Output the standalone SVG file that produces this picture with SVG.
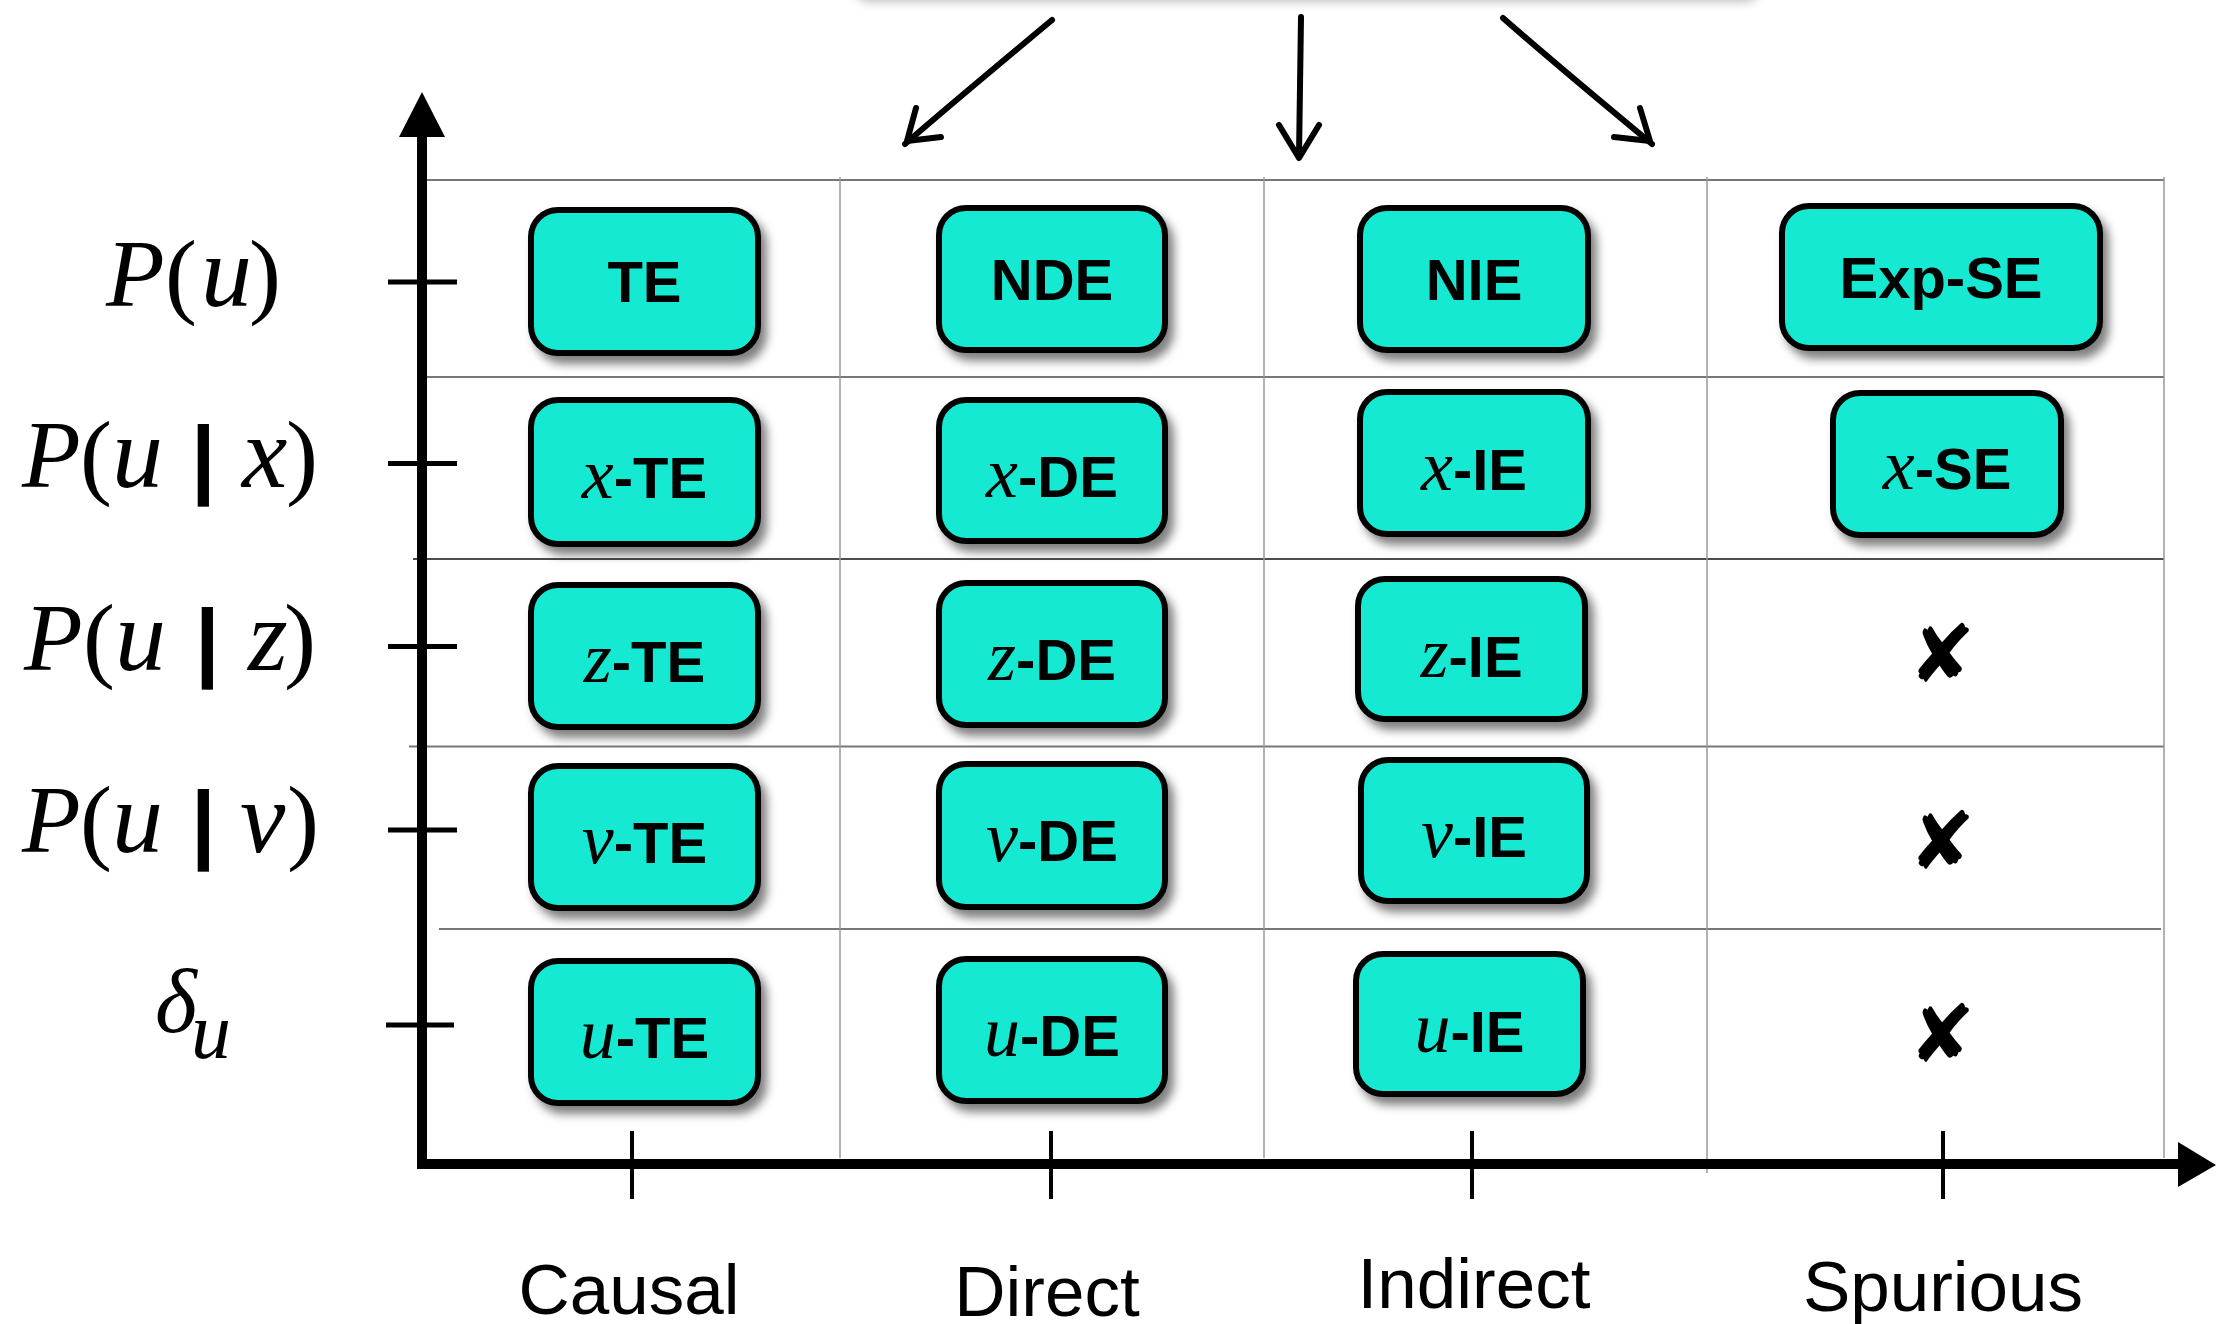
<svg xmlns="http://www.w3.org/2000/svg" width="2217" height="1324" viewBox="0 0 2217 1324">
<defs>
<filter id="sh" x="-20%" y="-20%" width="150%" height="160%">
<feDropShadow dx="6" dy="8" stdDeviation="5" flood-color="#000" flood-opacity="0.5"/>
</filter>
<filter id="sh2" x="-10%" y="-10%" width="120%" height="200%">
<feDropShadow dx="0" dy="4" stdDeviation="5" flood-color="#000" flood-opacity="0.25"/>
</filter>
</defs>
<style>
.box{fill:#18e9d1;stroke:#000;stroke-width:6}
.lbl{font-family:"Liberation Sans",Arial,sans-serif;font-weight:bold;font-size:58px;fill:#000}
.m{font-family:"Liberation Serif","Times New Roman",serif;font-style:italic;font-weight:normal;font-size:72px}
.gh{stroke:#777;stroke-width:2;fill:none}
.gv{stroke:#999;stroke-width:1.5;fill:none}
.ax{stroke:#000;fill:none}
.tk{stroke:#000;stroke-width:5}
.col{font-family:"Liberation Sans",Arial,sans-serif;font-size:71px;fill:#000}
.rl{font-family:"Liberation Serif","Times New Roman",serif;font-size:96px;fill:#000}
.it{font-style:italic}
.bar{font-family:"Liberation Sans",Arial,sans-serif;font-weight:bold;font-size:88px}
.xm{font-family:"DejaVu Sans",sans-serif;font-size:80px;fill:#000}
.hand{stroke:#000;stroke-width:6;stroke-linecap:round;stroke-linejoin:round;fill:none}
</style>
<rect width="2217" height="1324" fill="#fff"/>
<rect x="851" y="-160" width="912" height="158" rx="20" fill="#fff" filter="url(#sh2)"/>

<g id="grid">
<line class="gh" x1="427" y1="180" x2="2164" y2="180"/>
<line class="gh" x1="427" y1="377" x2="2164" y2="377"/>
<line x1="413" y1="559" x2="2164" y2="559" stroke="#111" stroke-width="1.5"/>
<line class="gh" x1="409" y1="746.5" x2="2164" y2="746.5"/>
<line class="gh" x1="439" y1="929" x2="2161" y2="929"/>
<line class="gv" x1="840" y1="177" x2="840" y2="1158"/>
<line class="gv" x1="1264" y1="177" x2="1264" y2="1158"/>
<line class="gv" x1="1707" y1="177" x2="1707" y2="1173"/>
<line class="gv" x1="2164" y1="177" x2="2164" y2="1158"/>
</g>

<g id="axes">
<line class="ax" x1="422" y1="134" x2="422" y2="1169" stroke-width="10"/>
<polygon points="422,92 399,137 445,137" fill="#000"/>
<line class="ax" x1="417" y1="1164" x2="2182" y2="1164" stroke-width="10"/>
<polygon points="2216,1165 2178,1142 2178,1187" fill="#000"/>
<line class="tk" x1="388" y1="282" x2="457" y2="282"/>
<line class="tk" x1="388" y1="463.5" x2="457" y2="463.5"/>
<line class="tk" x1="388" y1="646.5" x2="457" y2="646.5"/>
<line class="tk" x1="388" y1="830" x2="457" y2="830"/>
<line class="tk" x1="386" y1="1025" x2="454" y2="1025"/>
<line x1="632" y1="1131" x2="632" y2="1199" stroke="#000" stroke-width="4"/>
<line x1="1051" y1="1131" x2="1051" y2="1199" stroke="#000" stroke-width="4"/>
<line x1="1472" y1="1131" x2="1472" y2="1199" stroke="#000" stroke-width="4"/>
<line x1="1943" y1="1131" x2="1943" y2="1199" stroke="#000" stroke-width="4"/>
</g>

<g id="row-labels">
<text class="rl"><tspan class="it" x="106" y="306">P</tspan><tspan x="165" y="306">(</tspan><tspan class="it" x="201" y="306" font-size="102">u</tspan><tspan x="249" y="306">)</tspan></text>
<text class="rl"><tspan class="it" x="22" y="487">P</tspan><tspan x="80" y="487">(</tspan><tspan class="it" x="112" y="487" font-size="102">u</tspan><tspan class="bar" x="191" y="487">|</tspan><tspan class="it" x="242" y="487" font-size="102">x</tspan><tspan x="286" y="487">)</tspan></text>
<text class="rl"><tspan class="it" x="24" y="669.5">P</tspan><tspan x="83" y="669.5">(</tspan><tspan class="it" x="115" y="669.5" font-size="102">u</tspan><tspan class="bar" x="195" y="669.5">|</tspan><tspan class="it" x="248" y="669.5" font-size="102">z</tspan><tspan x="284" y="669.5">)</tspan></text>
<text class="rl"><tspan class="it" x="22" y="851.5">P</tspan><tspan x="80" y="851.5">(</tspan><tspan class="it" x="112" y="851.5" font-size="102">u</tspan><tspan class="bar" x="191" y="851.5">|</tspan><tspan class="it" x="240" y="851.5" font-size="102">v</tspan><tspan x="287" y="851.5">)</tspan></text>
<text class="rl"><tspan class="it" x="155" y="1032" font-size="90">δ</tspan><tspan class="it" x="191" y="1058" font-size="80">u</tspan></text>
</g>

<g id="col-labels">
<text class="col" x="629" y="1314" text-anchor="middle">Causal</text>
<text class="col" x="1047" y="1316" text-anchor="middle">Direct</text>
<text class="col" x="1474" y="1308" text-anchor="middle">Indirect</text>
<text class="col" x="1943" y="1311" text-anchor="middle">Spurious</text>
</g>

<g id="connectors">
<path class="hand" d="M1052,20 C1010,55 950,105 905,144" stroke-width="7"/>
<path class="hand" d="M916,108 L907,141 L941,137" stroke-width="6"/>
<path class="hand" d="M1301,17 L1299,156" stroke-width="7"/>
<path class="hand" d="M1279,125 L1299,158 L1319,125" stroke-width="6"/>
<path class="hand" d="M1503,18 C1545,55 1605,105 1652,144" stroke-width="7"/>
<path class="hand" d="M1640,108 L1650,141 L1614,137" stroke-width="6"/>
</g>

<g id="n-TE" filter="url(#sh)"><rect class="box" x="531" y="210" width="227" height="143" rx="27"/><text class="lbl" x="644.5" y="302" text-anchor="middle">TE</text></g>
<g id="n-NDE" filter="url(#sh)"><rect class="box" x="939" y="208" width="226" height="142" rx="27"/><text class="lbl" x="1052" y="300" text-anchor="middle">NDE</text></g>
<g id="n-NIE" filter="url(#sh)"><rect class="box" x="1360" y="208" width="228" height="142" rx="27"/><text class="lbl" x="1474" y="300" text-anchor="middle">NIE</text></g>
<g id="n-ExpSE" filter="url(#sh)"><rect class="box" x="1782" y="206" width="318" height="142" rx="27"/><text class="lbl" x="1941" y="298" text-anchor="middle">Exp-SE</text></g>

<g id="n-xTE" filter="url(#sh)"><rect class="box" x="531" y="400" width="227" height="144" rx="27"/><text class="lbl" x="644.5" y="498" text-anchor="middle"><tspan class="m">x</tspan>-TE</text></g>
<g id="n-xDE" filter="url(#sh)"><rect class="box" x="939" y="400" width="226" height="141" rx="27"/><text class="lbl" x="1052" y="497" text-anchor="middle"><tspan class="m">x</tspan>-DE</text></g>
<g id="n-xIE" filter="url(#sh)"><rect class="box" x="1360" y="392" width="228" height="142" rx="27"/><text class="lbl" x="1474" y="490" text-anchor="middle"><tspan class="m">x</tspan>-IE</text></g>
<g id="n-xSE" filter="url(#sh)"><rect class="box" x="1833" y="393" width="228" height="142" rx="27"/><text class="lbl" x="1947" y="489" text-anchor="middle"><tspan class="m">x</tspan>-SE</text></g>

<g id="n-zTE" filter="url(#sh)"><rect class="box" x="531" y="585" width="227" height="142" rx="27"/><text class="lbl" x="644.5" y="682" text-anchor="middle"><tspan class="m">z</tspan>-TE</text></g>
<g id="n-zDE" filter="url(#sh)"><rect class="box" x="939" y="583" width="226" height="142" rx="27"/><text class="lbl" x="1052" y="680" text-anchor="middle"><tspan class="m">z</tspan>-DE</text></g>
<g id="n-zIE" filter="url(#sh)"><rect class="box" x="1358" y="579" width="227" height="140" rx="27"/><text class="lbl" x="1471.5" y="677" text-anchor="middle"><tspan class="m">z</tspan>-IE</text></g>
<g id="n-zSE"><text class="xm" x="1942" y="682" text-anchor="middle">✘</text></g>

<g id="n-vTE" filter="url(#sh)"><rect class="box" x="531" y="766" width="227" height="142" rx="27"/><text class="lbl" x="644.5" y="863" text-anchor="middle"><tspan class="m">v</tspan>-TE</text></g>
<g id="n-vDE" filter="url(#sh)"><rect class="box" x="939" y="764" width="226" height="143" rx="27"/><text class="lbl" x="1052" y="861" text-anchor="middle"><tspan class="m">v</tspan>-DE</text></g>
<g id="n-vIE" filter="url(#sh)"><rect class="box" x="1361" y="760" width="226" height="141" rx="27"/><text class="lbl" x="1474" y="857" text-anchor="middle"><tspan class="m">v</tspan>-IE</text></g>
<g id="n-vSE"><text class="xm" x="1942" y="869" text-anchor="middle">✘</text></g>

<g id="n-uTE" filter="url(#sh)"><rect class="box" x="531" y="961" width="227" height="142" rx="27"/><text class="lbl" x="644.5" y="1058" text-anchor="middle"><tspan class="m">u</tspan>-TE</text></g>
<g id="n-uDE" filter="url(#sh)"><rect class="box" x="939" y="959" width="226" height="142" rx="27"/><text class="lbl" x="1052" y="1056" text-anchor="middle"><tspan class="m">u</tspan>-DE</text></g>
<g id="n-uIE" filter="url(#sh)"><rect class="box" x="1356" y="954" width="227" height="140" rx="27"/><text class="lbl" x="1469.5" y="1052" text-anchor="middle"><tspan class="m">u</tspan>-IE</text></g>
<g id="n-uSE"><text class="xm" x="1942" y="1062" text-anchor="middle">✘</text></g>
</svg>
